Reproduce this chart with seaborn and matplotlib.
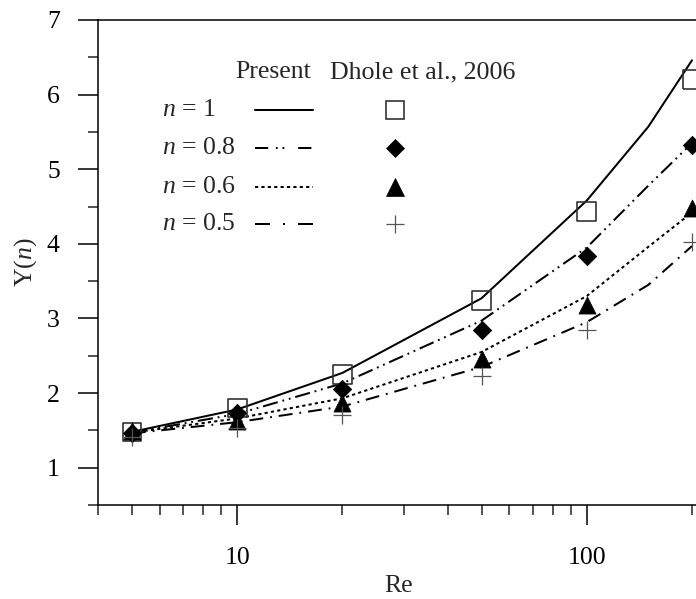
import matplotlib
matplotlib.use("Agg")
import matplotlib.pyplot as plt
import seaborn as sns
import numpy as np
from matplotlib.ticker import FixedLocator, NullFormatter, FixedFormatter, MultipleLocator

# ---- data ----
re_present = [5, 10, 20, 50, 100, 150, 200]
y_n1 = [1.48, 1.78, 2.27, 3.27, 4.58, 5.57, 6.46]
y_n08 = [1.47, 1.72, 2.13, 2.97, 3.95, 4.78, 5.35]
y_n06 = [1.47, 1.66, 1.93, 2.55, 3.30, 3.96, 4.42]
y_n05 = [1.46, 1.61, 1.82, 2.35, 2.95, 3.45, 3.97]

re_dhole = [5, 10, 20, 50, 100, 200]
d_n1 = [1.48, 1.80, 2.25, 3.24, 4.43, 6.20]
d_n08 = [1.47, 1.73, 2.05, 2.85, 3.84, 5.32]
d_n06 = [1.49, 1.62, 1.87, 2.45, 3.18, 4.48]
d_n05 = [1.41, 1.53, 1.71, 2.23, 2.84, 4.03]

series_labels = ["1", "0.8", "0.6", "0.5"]
x_ticks = [10, 100]
x_ticklabels = ["10", "100"]
y_ticks = [1, 2, 3, 4, 5, 6, 7]

sns.set_theme(style="white")
plt.rcParams["font.family"] = ["Liberation Serif", "DejaVu Serif"]
plt.rcParams["mathtext.fontset"] = "custom"
plt.rcParams["mathtext.rm"] = "Liberation Serif"
plt.rcParams["mathtext.it"] = "Liberation Serif:italic"
plt.rcParams["lines.scale_dashes"] = False

fig = plt.figure(figsize=(6.96, 5.99), dpi=100)
L, R, T, B = 98, 699.4, 20, 505
W, H = 696, 599
ax = fig.add_axes([L / W, (H - B) / H, (R - L) / W, (B - T) / H])

LW = 1.45
styles = [
    "-",
    (0, (11, 3.5, 1.3, 3.5, 1.3, 3.5)),
    (0, (2.3, 2.3)),
    (0, (10, 5, 1.3, 5)),
]
present = [y_n1, y_n08, y_n06, y_n05]
for ys, ls in zip(present, styles):
    sns.lineplot(x=re_present, y=ys, ax=ax, color="black", lw=LW,
                 sort=True, estimator=None, linestyle=ls)

# Dhole markers
sns.scatterplot(x=re_dhole, y=d_n1, ax=ax, marker="s", s=13.5**2,
                facecolor="none", edgecolor="#333333", linewidth=1.2, clip_on=False, zorder=5)
sns.scatterplot(x=re_dhole, y=d_n08, ax=ax, marker="D", s=9.4**2,
                color="black", edgecolor="black", linewidth=0.5, clip_on=False, zorder=5)
sns.scatterplot(x=re_dhole, y=d_n06, ax=ax, marker="^", s=12.3**2,
                color="black", edgecolor="black", linewidth=0.5, clip_on=False, zorder=5)
sns.scatterplot(x=re_dhole, y=d_n05, ax=ax, marker="+", s=13**2,
                color="#555555", linewidth=0.9, clip_on=False, zorder=5)

ax.set_xscale("log")
ax.set_xlim(4, 210)
ax.set_ylim(0.5, 7)

ax.xaxis.set_major_locator(FixedLocator(x_ticks))
ax.xaxis.set_major_formatter(FixedFormatter(x_ticklabels))
minor_x = [4, 5, 6, 7, 8, 9, 20, 30, 40, 50, 60, 70, 80, 90, 200]
ax.xaxis.set_minor_locator(FixedLocator(minor_x))
ax.xaxis.set_minor_formatter(NullFormatter())
ax.yaxis.set_major_locator(FixedLocator(y_ticks))
ax.yaxis.set_minor_locator(MultipleLocator(0.5))

ax.tick_params(which="major", direction="out", length=14.5, width=1.1,
               labelsize=18.5, pad=13, colors="black", left=True, bottom=True)
ax.tick_params(which="minor", direction="out", length=7.2, width=1.1,
               left=True, bottom=True)
ax.tick_params(axis="x", which="major", pad=16)
for s in ["left", "bottom", "top"]:
    ax.spines[s].set_visible(True)
    ax.spines[s].set_linewidth(1.1)
    ax.spines[s].set_color("black")
ax.spines["right"].set_visible(False)

ax.set_xlabel("Re", fontsize=18.5, labelpad=4)
ax.set_ylabel(r"Y($\mathit{n}$)", fontsize=18.5, labelpad=6)

# ---- legend (manual table) ----
def fx(px):
    return (px - L) / (R - L)

def fy(py):
    return (B - py) / (B - T)

ax.text(fx(235), fy(72), "Present", transform=ax.transAxes, fontsize=18.5,
        va="center", ha="left")
ax.text(fx(330), fy(72), "Dhole et al., 2006", transform=ax.transAxes, fontsize=18.7,
        va="center", ha="left")
row_y = [110, 148, 187, 224]
legend_styles = [
    "-",
    (0, (9.5, 5.5, 1.3, 3.5, 1.3, 10)),
    (0, (2.3, 2.3)),
    (0, (10.8, 9.4, 1.4, 9.4)),
]
mk = [dict(marker="s", ms=13.5, mfc="none", mec="#333333", mew=1.2),
      dict(marker="D", ms=9.4, mfc="black", mec="black", mew=0.5),
      dict(marker="^", ms=12.3, mfc="black", mec="black", mew=0.5),
      dict(marker="+", ms=13, mec="#555555", mew=0.9)]
for lab, py, ls, m in zip(series_labels, row_y, legend_styles, mk):
    ax.text(fx(162), fy(py), r"$\mathit{n}$ = " + lab, transform=ax.transAxes,
            fontsize=18.5, va="center", ha="left")
    ax.plot([fx(255), fx(313)], [fy(py), fy(py)], transform=ax.transAxes,
            color="black", lw=LW, linestyle=ls, clip_on=False)
    ax.plot([fx(395)], [fy(py)], transform=ax.transAxes, linestyle="none",
            clip_on=False, **m)

fig.savefig("out.png", dpi=100)
